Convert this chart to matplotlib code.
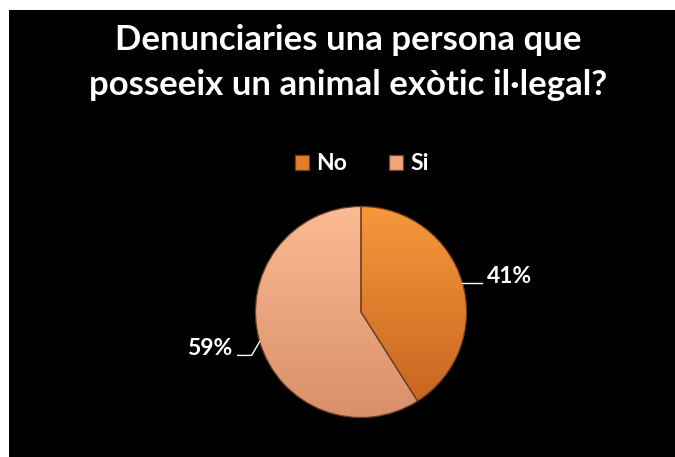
import numpy as np
import matplotlib
matplotlib.use("Agg")
import matplotlib.pyplot as plt
from matplotlib.colors import LinearSegmentedColormap
from matplotlib.patches import Rectangle

# data
title_lines = ["Denunciaries una persona que", "posseeix un animal exòtic il·legal?"]
categories = ["No", "Si"]
percentages = [41, 59]

# colours (top, bottom of gradient) per slice
flat_colors = ["#E57D27", "#F0A57D"]
grad_colors = [("#F7983C", "#C4621E"), ("#FCBB93", "#D8906A")]

plt.rcParams['font.family'] = ['Lato', 'DejaVu Sans']

W, H = 675, 457
fig = plt.figure(figsize=(6.75, 4.57), dpi=100)
fig.patch.set_facecolor('white')
ax = fig.add_axes([0, 0, 1, 1])

# black chart area (white strip on left / top)
ax.add_patch(Rectangle((9, 0), W - 9, H - 10, facecolor='black', edgecolor='none', zorder=0))

cx, cy, r = 361, 145, 105.5
wedges, _ = ax.pie(percentages, center=(cx, cy), radius=r, startangle=90,
                   counterclock=False, colors=flat_colors,
                   wedgeprops=dict(edgecolor='#6e4123', linewidth=0.9))

leg = ax.legend(wedges, categories, loc='center', bbox_to_anchor=(362, 293),
                bbox_transform=ax.transData, ncol=2, frameon=False,
                prop=dict(size=16.5, weight='bold'), labelcolor='white',
                handlelength=0.6, handleheight=0.6, handletextpad=0.32,
                columnspacing=1.85, borderpad=0, borderaxespad=0)

# gradient fill clipped to each wedge
grad = np.linspace(0, 1, 256).reshape(-1, 1)
for w, (c_top, c_bot) in zip(wedges, grad_colors):
    cmap = LinearSegmentedColormap.from_list('g', [c_top, c_bot])
    im = ax.imshow(grad, cmap=cmap, extent=(cx - r, cx + r, cy - r, cy + r),
                   origin='upper', aspect='auto', zorder=1, interpolation='bilinear')
    im.set_clip_path(w)
    w.set_facecolor('none')
    w.set_zorder(2)

# percentage labels with leader lines
for w, p in zip(wedges, percentages):
    mid = np.deg2rad((w.theta1 + w.theta2) / 2)
    x0, y0 = cx + r * np.cos(mid), cy + r * np.sin(mid)
    if np.cos(mid) >= 0:
        xs, ys = [x0, x0 + 20], [y0, y0]
        ax.plot(xs, ys, color='white', lw=1, zorder=3)
        ax.text(x0 + 25, y0 - 0.5, f"{p}%", color='white', fontsize=16.5,
                fontweight='bold', ha='left', va='baseline', zorder=3)
    else:
        xs, ys = [x0, x0 - 8, x0 - 22], [y0, y0 - 14, y0 - 14]
        ax.plot(xs, ys, color='white', lw=1, zorder=3)
        ax.text(x0 - 27, y0 - 13.5, f"{p}%", color='white', fontsize=16.5,
                fontweight='bold', ha='right', va='baseline', zorder=3)

# title
for i, line in enumerate(title_lines):
    ax.text(348, H - 50 - 45 * i, line, color='white', fontsize=25,
            fontweight='bold', ha='center', va='baseline')

ax.set_xlim(0, W)
ax.set_ylim(0, H)
ax.set_aspect('auto')
ax.axis('off')

fig.savefig('out.png', dpi=100, facecolor='white')
